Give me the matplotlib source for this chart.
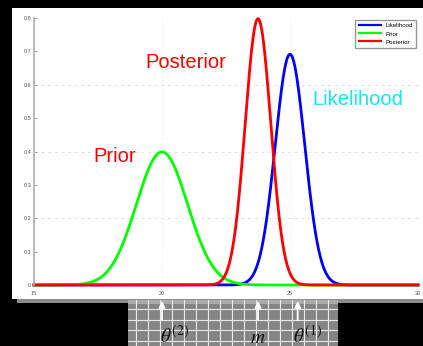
import numpy as np
import matplotlib
matplotlib.use('Agg')
import matplotlib.pyplot as plt
import matplotlib.transforms as mtransforms
from matplotlib.patches import Rectangle

# Gaussian curves: mean and spread of each density
names  = ['Likelihood', 'Prior', 'Posterior']
means  = [25.0, 20.0, 23.75]
sds    = [0.577, 1.0, 0.5]
colors = ['#0000ff', '#00ff00', '#ff0000']

x_ticks = [15, 20, 25, 30]
x_tick_labels = ['15', '20', '25', '30']
y_ticks = [0, 0.1, 0.2, 0.3, 0.4, 0.5, 0.6, 0.7, 0.8]
y_tick_labels = ['0', '0.1', '0.2', '0.3', '0.4', '0.5', '0.6', '0.7', '0.8']
grid_y = [0.2, 0.4, 0.6]
grid_x = [20, 25, 30]

# markers under the axis: label, data position
marks = [(r'$\theta^{(2)}$', 20.0), (r'$m$', 23.75), (r'$\theta^{(1)}$', 25.3)]
mark_shift = [9, 0, 7]   # label offset from arrow, points

W, H = 423, 346
plt.rcParams['font.family'] = ['Liberation Sans', 'DejaVu Sans']
plt.rcParams['mathtext.fontset'] = 'stix'

fig = plt.figure(figsize=(W / 100, H / 100), dpi=100)
fig.patch.set_facecolor('black')

# white panel behind the plot
fig.patches.append(Rectangle((12 / W, 1 - 299 / H), 411 / W, 291 / H,
                             transform=fig.transFigure, facecolor='white',
                             edgecolor='none', zorder=-2))
fig.patches.append(Rectangle((17 / W, 1 - 303 / H), 406 / W, 4 / H,
                             transform=fig.transFigure, facecolor='#8c8c8c',
                             edgecolor='none', zorder=-1))

ax = fig.add_axes([34 / W, 1 - 285 / H, 384 / W, 267 / H])
ax.set_zorder(1)

xs = np.linspace(15, 30, 1200)
for name, mu, sd, c in zip(names, means, sds, colors):
    ys = np.exp(-0.5 * ((xs - mu) / sd) ** 2) / (sd * np.sqrt(2 * np.pi))
    ax.plot(xs, ys, color=c, lw=2.0, label=name, clip_on=False)

for gy in grid_y:
    ax.axhline(gy, color='#dedede', lw=0.6, ls=(0, (4, 4)), zorder=0)
for gx in grid_x:
    ax.axvline(gx, color='#dedede', lw=0.6, ls=(0, (1, 4)), zorder=0)

ax.set_xlim(15, 30)
ax.set_ylim(0, 0.8)
ax.set_xticks(x_ticks)
ax.set_xticklabels(x_tick_labels)
ax.set_yticks(y_ticks)
ax.set_yticklabels(y_tick_labels)
ax.tick_params(direction='in', length=2.5, width=0.6, color='#999999',
               labelsize=4, labelcolor='#555555', pad=2)
ax.tick_params(axis='x', length=0, pad=4)
for s in ['top', 'right', 'bottom']:
    ax.spines[s].set_visible(False)
ax.spines['left'].set_color('#aaaaaa')
ax.spines['left'].set_linewidth(1.2)

leg = ax.legend(loc='upper right', fontsize=4.4, handlelength=3.6,
                borderaxespad=0.25, fancybox=False, edgecolor='#999999',
                framealpha=1, labelspacing=0.45, borderpad=0.6,
                handletextpad=0.8)
for ln in leg.get_lines():
    ln.set_linewidth(1.6)

ax.text(20.94, 0.65, 'Posterior', color='#ff0000', fontsize=14.5,
        ha='center', va='baseline')
ax.text(18.14, 0.368, 'Prior', color='#ff0000', fontsize=14.5,
        ha='center', va='baseline')
ax.text(27.66, 0.54, 'Likelihood', color='#14e6f5', fontsize=14.5,
        ha='center', va='baseline')

# checked strip under the axis with the markers
hax = fig.add_axes([128 / W, 0, 210 / W, 46 / H])
hax.set_zorder(0)
hax.set_facecolor('#858585')
hax.set_xlim(0, 210)
hax.set_ylim(0, 46)
for gx in np.arange(8, 210, 12):
    hax.axvline(gx, color='#e8e8e8', lw=0.8)
for gy in [5.5, 16, 26.5, 37]:
    hax.axhline(gy, color='#e8e8e8', lw=0.8)
hax.add_patch(Rectangle((0, 42), 210, 4, facecolor='#ababab', edgecolor='none'))
hax.set_xticks([])
hax.set_yticks([])
for s in hax.spines.values():
    s.set_visible(False)

blend = mtransforms.blended_transform_factory(ax.transData, fig.transFigure)
for (label, xv), dx in zip(marks, mark_shift):
    ax.annotate('', xy=(xv, 1 - 301 / H), xytext=(xv, 1 - 320 / H),
                xycoords=blend, textcoords=blend, annotation_clip=False,
                arrowprops=dict(arrowstyle='-|>', color='white', lw=1.3,
                                mutation_scale=9, shrinkA=0, shrinkB=0))
    ax.annotate(label, xy=(xv, 1 - 343 / H), xycoords=blend,
                xytext=(dx, 0), textcoords='offset points',
                color='#111111', fontsize=14, ha='center', va='baseline',
                annotation_clip=False)

fig.savefig('out.png', dpi=100, facecolor='black')
